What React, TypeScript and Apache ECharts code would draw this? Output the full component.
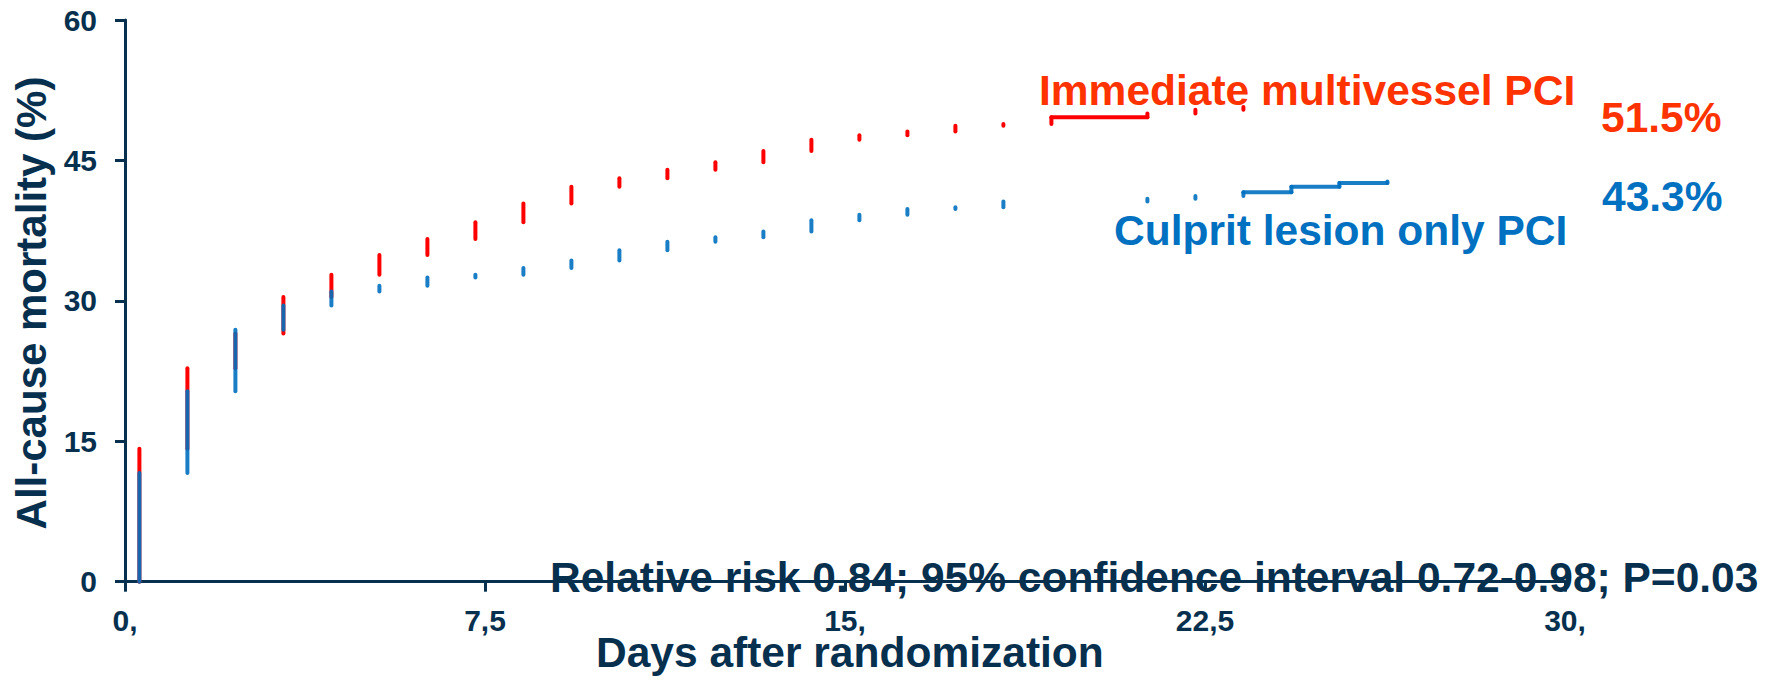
import React, { useEffect, useRef } from "react";
import * as echarts from "echarts";

// ---- data ----
const xTickLabels = ["0,", "7,5", "15,", "22,5", "30,"];
const yTickValues = [0, 15, 30, 45, 60];

const multivesselJumpDays = [0.3, 1.3, 2.3, 3.3, 4.3, 5.3, 6.3, 7.3, 8.3, 9.3, 10.3, 11.3, 12.3, 13.3, 14.3, 15.3, 16.3, 17.3, 18.3, 19.3, 21.3, 22.3, 23.3];
const multivesselLevels = [14.2, 22.8, 26.5, 30.4, 32.8, 34.9, 36.6, 38.4, 40.4, 42.2, 43.1, 44.0, 44.8, 46.0, 47.2, 47.7, 48.1, 48.7, 48.9, 49.6, 50.0, 50.4, 50.7];
const multivesselFlatSpans = [[19.3, 21.3]];

const culpritJumpDays = [0.3, 1.3, 2.3, 3.3, 4.3, 5.3, 6.3, 7.3, 8.3, 9.3, 10.3, 11.3, 12.3, 13.3, 14.3, 15.3, 16.3, 17.3, 18.3, 21.3, 22.3, 23.3, 24.3, 25.3, 26.3];
const culpritLevels = [11.6, 20.35, 26.9, 29.5, 31.0, 31.6, 32.5, 32.8, 33.5, 34.3, 35.4, 36.3, 36.8, 37.4, 38.6, 39.2, 39.8, 40.0, 40.6, 40.9, 41.2, 41.6, 42.2, 42.6, 42.75];
const culpritFlatSpans = [[23.3, 26.3]];

const seriesNames = ["Immediate multivessel PCI", "Culprit lesion only PCI"];
const finalValues = ["51.5%", "43.3%"];
const xAxisTitle = "Days after randomization";
const yAxisTitle = "All-cause mortality (%)";
const statsText = "Relative risk 0.84; 95% confidence interval 0.72-0.98; P=0.03";

// ---- style ----
const NAVY = "#07304F";
const RED_LINE = "#FF0000";
const RED_TEXT = "#FF3300";
const BLUE = "#0070C0";
const FONT = '"Liberation Sans", Arial, Helvetica, sans-serif';

function buildSegments(days: number[], levels: number[], spans: number[][]) {
  const segs: number[][] = [];
  let prev = 0;
  days.forEach((d, i) => {
    segs.push([d, prev, d, levels[i]]);
    prev = levels[i];
  });
  for (let i = 0; i < days.length - 1; i++) {
    const inSpan = spans.some(([a, b]) => days[i] >= a - 1e-9 && days[i + 1] <= b + 1e-9);
    if (inSpan) segs.push([days[i], levels[i], days[i + 1], levels[i]]);
  }
  return segs;
}

function segmentSeries(name: string, data: number[][], color: string, opacity: number, z: number) {
  return {
    name,
    type: "custom",
    silent: true,
    clip: false,
    z,
    encode: { x: [0, 2], y: [1, 3] },
    data,
    renderItem: (_params: any, api: any) => {
      const p1 = api.coord([api.value(0), api.value(1)]);
      const p2 = api.coord([api.value(2), api.value(3)]);
      return {
        type: "line",
        shape: { x1: p1[0], y1: p1[1], x2: p2[0], y2: p2[1] },
        style: { stroke: color, lineWidth: 4, lineCap: "round", opacity },
      };
    },
  };
}

function txt(text: string, x: number, y: number, color: string, size: number, align = "left", rotation = 0) {
  return {
    type: "text",
    x,
    y,
    rotation,
    silent: true,
    style: {
      text,
      fill: color,
      fontSize: size,
      fontWeight: "bold",
      fontFamily: FONT,
      align,
      textAlign: align,
      verticalAlign: "middle",
      textVerticalAlign: "middle",
    },
  };
}

export default function App() {
  const ref = useRef<HTMLDivElement>(null);

  useEffect(() => {
    if (!ref.current) return;
    const chart = echarts.init(ref.current, undefined, { renderer: "svg" });
    const redSegs = buildSegments(multivesselJumpDays, multivesselLevels, multivesselFlatSpans);
    const blueSegs = buildSegments(culpritJumpDays, culpritLevels, culpritFlatSpans);

    chart.setOption({
      animation: false,
      backgroundColor: "#ffffff",
      grid: { left: 125, top: 20, right: 206, bottom: 112.3, containLabel: false },
      xAxis: {
        type: "value",
        min: 0,
        max: 30,
        interval: 7.5,
        splitLine: { show: false },
        axisLine: { show: true, lineStyle: { color: NAVY, width: 3 } },
        axisTick: { show: true, length: 10, lineStyle: { color: NAVY, width: 3 } },
        axisLabel: {
          color: NAVY,
          fontSize: 30,
          fontWeight: "bold",
          fontFamily: FONT,
          margin: 24,
          formatter: (v: number) => xTickLabels[Math.round(v / 7.5)] ?? "",
        },
      },
      yAxis: {
        type: "value",
        min: 0,
        max: 60,
        interval: 15,
        splitLine: { show: false },
        axisLine: { show: true, lineStyle: { color: NAVY, width: 3 } },
        axisTick: { show: true, length: 10, lineStyle: { color: NAVY, width: 3 } },
        axisLabel: {
          color: NAVY,
          fontSize: 30,
          fontWeight: "bold",
          fontFamily: FONT,
          margin: 28,
          formatter: (v: number) => (yTickValues.includes(v) ? String(v) : ""),
        },
      },
      series: [
        segmentSeries(seriesNames[0], redSegs, RED_LINE, 1, 2),
        segmentSeries(seriesNames[1], blueSegs, BLUE, 0.9, 3),
      ],
      graphic: [
        txt(seriesNames[0], 1039, 90, RED_TEXT, 42.5),
        txt(finalValues[0], 1601, 117, RED_TEXT, 42.5),
        txt(finalValues[1], 1602, 196, BLUE, 42.5),
        txt(seriesNames[1], 1114, 230, BLUE, 42.5),
        txt(statsText, 550, 577, NAVY, 42.5),
        txt(xAxisTitle, 596, 652, NAVY, 42.5),
        txt(yAxisTitle, 31, 303, NAVY, 42, "center", Math.PI / 2),
      ],
    });
    return () => chart.dispose();
  }, []);

  return (
    <div
      ref={ref}
      style={{ position: "fixed", left: 0, top: 0, width: 1771, height: 694, background: "#fff" }}
    />
  );
}
